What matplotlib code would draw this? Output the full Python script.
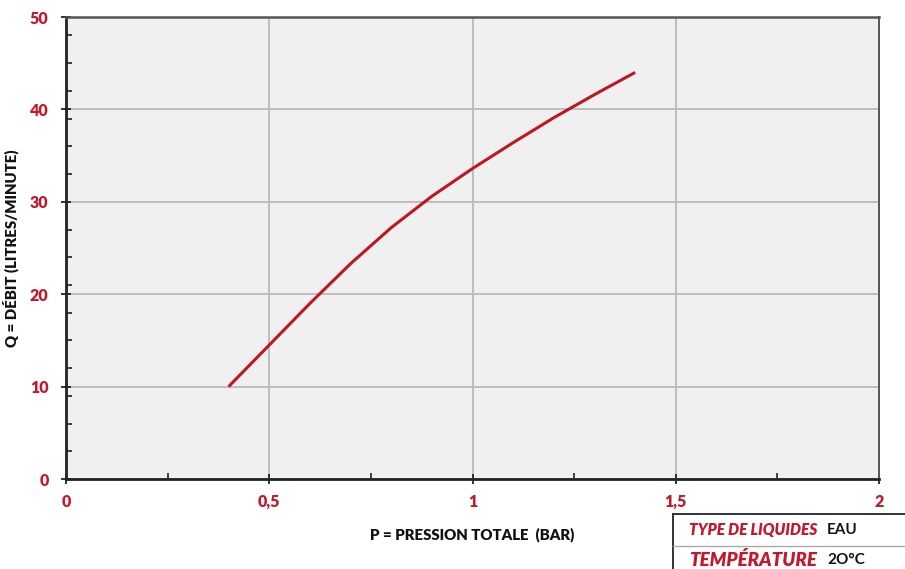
import numpy as np
import matplotlib
matplotlib.use("Agg")
import matplotlib.pyplot as plt
from matplotlib.ticker import MultipleLocator, FuncFormatter
from matplotlib.patches import Rectangle
from matplotlib.lines import Line2D

# courbe debit / pression
pression = [0.40, 0.50, 0.60, 0.70, 0.80, 0.90, 1.00, 1.10, 1.20, 1.30, 1.40]
debit = [10.0, 14.5, 19.0, 23.3, 27.2, 30.6, 33.6, 36.4, 39.1, 41.6, 44.0]

x_ticks = [0, 0.5, 1, 1.5, 2]
y_ticks = [0, 10, 20, 30, 40, 50]
table_rows = [("TYPE DE LIQUIDES", "EAU"), ("TEMPÉRATURE", "2O°C")]

RED = "#c4182c"
FONT = ["Lato", "DejaVu Sans"]

plt.rcParams['font.family'] = FONT

fig = plt.figure(figsize=(9.05, 5.69), dpi=100)
ax = fig.add_axes([66 / 905, 90 / 569, 813 / 905, 462 / 569])
ax.set_facecolor("#f0f0f0")

ax.plot(pression, debit, color="#c0161f", linewidth=2.2, solid_capstyle="butt",
        solid_joinstyle="round")

ax.set_xlim(0, 2)
ax.set_ylim(0, 50)
ax.set_xticks(x_ticks)
ax.set_yticks(y_ticks)
ax.xaxis.set_minor_locator(MultipleLocator(0.25))
ax.yaxis.set_minor_locator(MultipleLocator(3))
ax.xaxis.set_major_formatter(FuncFormatter(lambda v, p: ("%g" % v).replace(".", ",")))
ax.grid(True, which="major", color="#bdbdbd", linewidth=1.4)
ax.set_axisbelow(True)

ax.tick_params(axis="both", which="major", direction="inout", length=7, width=1.3,
               colors="#222222", labelcolor=RED, labelsize=11.5)
ax.tick_params(axis="both", which="minor", direction="in", length=4, width=1.2, color="#222222")
ax.tick_params(axis="x", pad=7)
ax.tick_params(axis="y", pad=9)
for lab in ax.get_xticklabels() + ax.get_yticklabels():
    lab.set_fontweight("heavy")

ax.spines["left"].set_linewidth(2.0)
ax.spines["bottom"].set_linewidth(2.0)
ax.spines["left"].set_color("#222222")
ax.spines["bottom"].set_color("#222222")
ax.spines["top"].set_linewidth(1.8)
ax.spines["top"].set_color("#555555")
ax.spines["right"].set_linewidth(1.4)
ax.spines["right"].set_color("#555555")

ax.set_xlabel("P = PRESSION TOTALE  (BAR)", fontsize=10.8, fontweight="heavy", color="#111111",
              labelpad=13)
ax.set_ylabel("Q = DÉBIT (LITRES/MINUTE)", fontsize=10.8, fontweight="heavy", color="#111111",
              labelpad=8)

# petit tableau en bas a droite
W, H = 905.0, 569.0
fig.add_artist(Rectangle((673 / W, 0), 1 - 673 / W, (569 - 514) / H, transform=fig.transFigure,
                         facecolor="white", edgecolor="none"))
fig.add_artist(Line2D([673 / W, 1], [1 - 514 / H] * 2, transform=fig.transFigure,
                      color="#333333", linewidth=1.4))
fig.add_artist(Line2D([673 / W, 673 / W], [0, 1 - 514 / H], transform=fig.transFigure,
                      color="#333333", linewidth=1.4))
fig.add_artist(Line2D([673 / W, 1], [1 - 546 / H] * 2, transform=fig.transFigure,
                      color="#aaaaaa", linewidth=1.0))

row_y = [530, 560]
row_size = [11.2, 13.5]
for (name, val), yy, fs in zip(table_rows, row_y, row_size):
    fig.text(817 / W, 1 - yy / H, name, ha="right", va="center", fontsize=fs, color=RED,
             fontweight="heavy", fontstyle="italic")
    fig.text(827 / W, 1 - yy / H, val, ha="left", va="center", fontsize=11, color="#111111",
             fontweight="bold")

fig.savefig("out.png", dpi=100)
